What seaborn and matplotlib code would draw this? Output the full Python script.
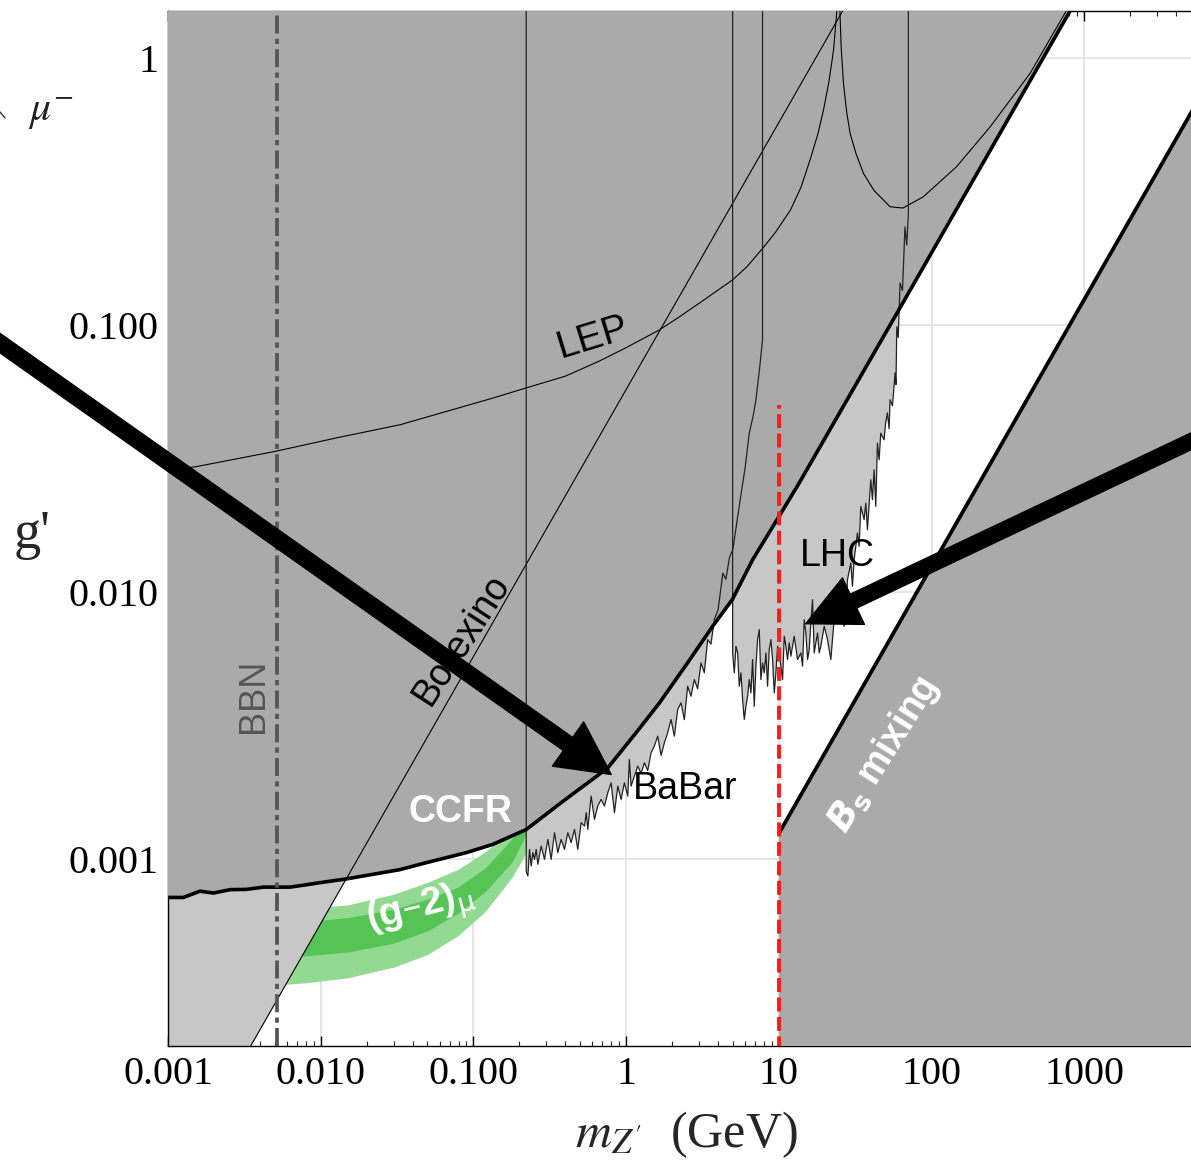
import numpy as np
import matplotlib
matplotlib.use("Agg")
import matplotlib.pyplot as plt
import seaborn as sns
from matplotlib.lines import Line2D
from matplotlib.ticker import LogLocator, NullFormatter

# thick black bound (CCFR), m in GeV, g'
ccfr_m = [0.001, 0.00126, 0.00162, 0.00198, 0.00255, 0.00327, 0.0042, 0.00628, 0.00767, 0.00987, 0.01475,
          0.0329, 0.0492, 0.09, 0.134, 0.222, 0.375, 0.758, 1.2, 1.65, 2.5, 3.69, 4.96, 6.73, 10.0, 13.6, 62.0,
          805.0, 1000.0]
ccfr_g = [7.2e-4, 7.2e-4, 7.6e-4, 7.48e-4, 7.7e-4, 7.72e-4, 7.87e-4, 7.87e-4, 8.0e-4, 8.18e-4, 8.45e-4,
          9.15e-4, 9.72e-4, 1.06e-3, 1.138e-3, 1.294e-3, 1.63e-3, 2.2e-3, 3.05e-3, 3.85e-3, 5.4e-3, 7.47e-3, 9.4e-3,
          0.01324, 0.0192, 0.0257, 0.116, 1.5, 1.87]

# Borexino (thin straight line)
bor_m = [0.001, 30.0]
bor_g = [5.75e-5, 1.725]

# LEP (thin curve)
lep_m = [0.001, 0.0015, 0.005, 0.013, 0.0329, 0.07, 0.134, 0.2195, 0.4, 0.668, 1.0, 1.652, 2.2, 3.01, 4.98, 6.2,
         7.82, 9.5, 11.9, 14.0, 16.0, 18.0, 19.6, 21.3, 22.8, 24.0, 24.5, 25.1, 25.6, 26.5, 27.8, 29.3, 32.0, 35.8,
         42.0, 53.5, 65.0, 88.3, 146.0, 242.0, 441.0, 765.0]
lep_g = [0.0288, 0.0295, 0.0337, 0.038, 0.0424, 0.048, 0.0534, 0.0582, 0.0645, 0.0735, 0.0825, 0.0961, 0.107, 0.121,
         0.148, 0.166, 0.194, 0.223, 0.270, 0.33, 0.416, 0.52, 0.64, 0.82, 1.07, 1.51, 3.0, 1.51, 1.1, 0.805, 0.63,
         0.523, 0.44, 0.371, 0.32, 0.278, 0.275, 0.303, 0.393, 0.554, 0.877, 1.51]

# BaBar (thin wiggly curve)
babar_m = [0.2217, 0.2217, 0.2273, 0.2331, 0.2390, 0.2451, 0.2513, 0.2577, 0.2642, 0.2778, 0.2921, 0.3071, 0.3229,
           0.3396, 0.3570, 0.3754, 0.3947, 0.4150, 0.4365, 0.4589, 0.4826, 0.5074, 0.5336, 0.548, 0.5610, 0.5899,
           0.6203, 0.6522, 0.6858, 0.7211, 0.7582, 0.7973, 0.8384, 0.8815, 0.9269, 0.9745, 1.025, 1.05, 1.077, 1.133,
           1.191, 1.253, 1.317, 1.385, 1.456, 1.531, 1.610, 1.693, 1.780, 1.871, 1.968, 2.069, 2.176, 2.288, 2.405,
           2.529, 2.659, 2.796, 2.940, 3.091, 3.251, 3.418, 3.594, 3.779, 4.0, 4.3, 4.5, 4.75, 5.0, 5.4, 5.7, 6.0,
           6.4, 6.8, 7.08, 7.5, 7.82, 7.82]
babar_g = [2.0, 9.0e-4, 8.66e-4, 1.09e-3, 9.44e-4, 1.059e-3, 1.0e-3, 1.09e-3, 9.58e-4, 1.122e-3, 1.0e-3, 1.188e-3,
           1.0e-3, 1.258e-3, 1.059e-3, 1.188e-3, 1.09e-3, 1.258e-3, 1.155e-3, 1.295e-3, 1.09e-3, 1.372e-3, 1.332e-3,
           1.495e-3, 1.295e-3, 1.726e-3, 1.412e-3, 1.584e-3, 1.677e-3, 1.584e-3, 1.775e-3, 1.935e-3, 1.495e-3, 1.88e-3,
           1.677e-3, 1.935e-3, 1.726e-3, 2.366e-3, 1.88e-3, 2.05e-3, 2.234e-3, 2.1e-3, 2.299e-3, 2.15e-3, 2.506e-3,
           2.655e-3, 2.893e-3, 2.45e-3, 2.732e-3, 2.978e-3, 3.341e-3, 2.893e-3, 3.641e-3, 3.856e-3, 3.338e-3,
           4.452e-3, 4.083e-3, 4.715e-3, 4.352e-3, 5.44e-3, 5.0e-3, 6.65e-3, 6.4e-3, 7.9e-3, 8.6e-3, 0.0118, 0.0112,
           0.0135, 0.0145, 0.0195, 0.024, 0.029, 0.0394, 0.046, 0.0526, 0.07, 0.0881, 2.0]

# LHC (thin wiggly curve)
lhc_m = [4.982, 4.982, 5.109, 5.239, 5.372, 5.508, 5.648, 5.791, 5.938, 6.089, 6.244, 6.402, 6.565, 6.731, 6.903,
         7.079, 7.258, 7.443, 7.632, 7.826, 8.025, 8.229, 8.438, 8.652, 8.873, 9.099, 9.331, 9.568, 9.811, 10.06,
         10.31, 10.58, 10.85, 11.12, 11.40, 11.70, 11.99, 12.61, 13.26, 13.94, 14.30, 14.66, 15.03, 15.42, 15.81,
         16.20, 16.62, 17.04, 17.92, 18.37, 18.84, 19.82, 20.83, 21.90, 23.03, 24.22, 25.46, 26.77, 27.45, 28.15,
         29.60, 30.35, 31.12, 32.72, 33.56, 34.41, 36.18, 37.10, 38.04, 40.0, 41.02, 42.06, 43.13, 44.22, 45.35,
         46.50, 48.89, 50.0, 51.4, 52.72, 53.5, 55.5, 57.7, 58.5, 59.2, 60.5, 62.2, 64.5, 67.0, 68.8, 70.5, 70.5]
lhc_g = [2.0, 5.933e-3, 4.993e-3, 6.283e-3, 5.933e-3, 4.452e-3, 4.993e-3, 3.968e-3, 3.341e-3, 3.746e-3, 4.083e-3,
         4.715e-3, 4.202e-3, 5.601e-3, 3.746e-3, 5.288e-3, 6.654e-3, 7.252e-3, 4.715e-3, 5.443e-3, 4.993e-3,
         5.933e-3, 4.452e-3, 6.105e-3, 6.654e-3, 5.601e-3, 4.202e-3, 4.993e-3, 6.283e-3, 5.933e-3, 5.288e-3,
         4.715e-3, 6.848e-3, 6.283e-3, 5.601e-3, 6.466e-3, 5.765e-3, 6.848e-3, 5.601e-3, 5.933e-3, 5.288e-3,
         7.903e-3, 7.047e-3, 5.601e-3, 6.105e-3, 7.681e-3, 9.39e-3, 5.933e-3, 7.047e-3, 5.933e-3, 6.283e-3,
         7.463e-3, 6.654e-3, 5.601e-3, 7.903e-3, 7.681e-3, 8.37e-3, 7.463e-3, 7.903e-3, 0.01115, 0.01288, 0.01053,
         0.01326, 0.01668, 0.01487, 0.02099, 0.01871, 0.0216, 0.01717, 0.0264, 0.02222, 0.02877, 0.0210, 0.03621,
         0.03136, 0.03947, 0.03727, 0.0430, 0.0470, 0.0410, 0.0526, 0.050, 0.0664, 0.060, 0.0989, 0.090, 0.144,
         0.135, 0.234, 0.20, 0.261, 2.0]

# Bs mixing bound
bs_m = [10.0, 6000.0]
bs_g = [1.25e-3, 0.75]

# (g-2)_mu band: 2 sigma (outer) and 1 sigma (inner)
band_m = [0.004, 0.008, 0.015, 0.03, 0.05, 0.08, 0.12, 0.18, 0.23]
band_outer_lo = [3.35e-4, 3.45e-4, 3.6e-4, 3.95e-4, 4.4e-4, 5.2e-4, 6.4e-4, 8.6e-4, 1.1e-3]
band_inner_lo = [4.3e-4, 4.35e-4, 4.5e-4, 4.85e-4, 5.4e-4, 6.3e-4, 7.6e-4, 9.8e-4, 1.3e-3]
band_inner_hi = [5.8e-4, 5.85e-4, 6.05e-4, 6.5e-4, 7.1e-4, 7.9e-4, 9.3e-4, 1.2e-3, 1.55e-3]
band_outer_hi = [6.5e-4, 6.55e-4, 6.75e-4, 7.4e-4, 8.2e-4, 9.2e-4, 1.07e-3, 1.3e-3, 1.7e-3]

bbn_m = 0.0052
red_m, red_gtop = 10.0, 0.0503

xticks = [1e-3, 1e-2, 1e-1, 1, 10, 100, 1000]
xticklabels = ["0.001", "0.010", "0.100", "1", "10", "100", "1000"]
yticks = [1e-3, 1e-2, 1e-1, 1]
yticklabels = ["0.001", "0.010", "0.100", "1"]

sns.set_style("ticks")
plt.rcParams['font.family'] = ['Liberation Serif', 'DejaVu Serif']
plt.rcParams['mathtext.fontset'] = 'stix'
plt.rcParams['text.color'] = 'black'

dark = '#aaaaaa'
light = '#c7c7c7'

fig = plt.figure(figsize=(11.91, 11.66), dpi=100)
ax = fig.add_axes([168/1191, 1 - 1046/1166, 1023/1191, 1034.7/1166])
ax.set_xscale('log')
ax.set_yscale('log')

# green (g-2) band
ax.fill_between(band_m, band_outer_lo, band_outer_hi, color='#92da92', lw=0, zorder=1)
ax.fill_between(band_m, band_inner_lo, band_inner_hi, color='#55c455', lw=0, zorder=1.1)

# light gray regions
n_ll = ccfr_m.index(0.01475) + 1
ax.fill(ccfr_m[:n_ll] + [bor_m[0]], ccfr_g[:n_ll] + [bor_g[0]], color=light, lw=0, zorder=2)
ax.fill(babar_m, babar_g, color=light, lw=0, zorder=2)
ax.fill(lhc_m, lhc_g, color=light, lw=0, zorder=2)

# dark gray regions
ax.fill(ccfr_m + [ccfr_m[-1], ccfr_m[0]], ccfr_g + [10, 10], color=dark, lw=0, zorder=3)
ax.fill(bs_m + [bs_m[-1], bs_m[0]], bs_g + [1e-5, 1e-5], color=dark, lw=0, zorder=3)

# thin lines
sns.lineplot(x=lep_m, y=lep_g, sort=False, estimator=None, color='black', lw=0.8, ax=ax, zorder=4)
sns.lineplot(x=bor_m, y=bor_g, sort=False, estimator=None, color='black', lw=0.8, ax=ax, zorder=4)
sns.lineplot(x=babar_m, y=babar_g, sort=False, estimator=None, color='#222222', lw=0.9, ax=ax, zorder=4)
sns.lineplot(x=lhc_m, y=lhc_g, sort=False, estimator=None, color='#222222', lw=0.9, ax=ax, zorder=4)

# thick lines
sns.lineplot(x=ccfr_m, y=ccfr_g, sort=False, estimator=None, color='black', lw=2.6, ax=ax, zorder=5)
sns.lineplot(x=bs_m, y=bs_g, sort=False, estimator=None, color='black', lw=2.7, ax=ax, zorder=5)

# BBN and red dashed line
ax.axvline(bbn_m, color='#555555', lw=2.7, dashes=(4.8, 1.4, 1.4, 1.4), zorder=6)
ax.plot([red_m, red_m], [1e-5, red_gtop], color='#ff1a1a', lw=2.8, dashes=(3.6, 1.4), zorder=6)

ax.set_xlim(1e-3, 5000)
ax.set_ylim(2.0e-4, 1.5)

ax.grid(True, which='major', color='#e2e2e2', lw=1.2)
ax.set_axisbelow(True)

ax.set_xticks(xticks)
ax.set_xticklabels(xticklabels)
ax.set_yticks(yticks)
ax.set_yticklabels(yticklabels)
for axis in (ax.xaxis, ax.yaxis):
    axis.set_minor_locator(LogLocator(base=10, subs=np.arange(2, 10), numticks=30))
    axis.set_minor_formatter(NullFormatter())
ax.tick_params(which='major', direction='in', length=7, width=1, top=True, right=False,
               labelsize=29, pad=7, colors='black')
ax.tick_params(which='minor', direction='in', length=3.5, width=0.8, top=True, right=False)
for s in ['left', 'bottom', 'top']:
    ax.spines[s].set_color('black')
    ax.spines[s].set_linewidth(1)
ax.spines['right'].set_visible(False)

ax.set_xlabel(r"$m_{Z'}$  (GeV)", fontsize=36, math_fontfamily='stix', va='center')
ax.xaxis.set_label_coords(0.507, -0.086)
ax.set_ylabel("g'", fontsize=39, rotation=0, va='center', ha='center')
ax.yaxis.set_label_coords(-0.133, 0.494)

sans = 'Liberation Sans'
ax.text(0.602, 0.0898, "LEP", fontsize=28, family=sans, rotation=17, ha='center', va='center',
        rotation_mode='anchor', zorder=7)
ax.text(2.44, 1.83e-3, "BaBar", fontsize=27, family=sans, ha='center', va='center', zorder=7)
ax.text(24.1, 0.0137, "LHC", fontsize=27, family=sans, ha='center', va='center', zorder=7)
ax.text(0.0834, 6.65e-3, "Borexino", fontsize=27, family=sans, rotation=57, ha='center', va='center',
        rotation_mode='anchor', zorder=7)
ax.text(0.0818, 1.51e-3, "CCFR", fontsize=27, family=sans, weight='bold', color='white',
        ha='center', va='center', zorder=7)
ax.text(0.0456, 6.5e-4, r"(g–2)$_\mathrm{\mu}$", fontsize=28, family=sans, weight='bold', color='white',
        rotation=14, ha='center', va='center', rotation_mode='anchor', math_fontfamily='dejavusans', zorder=7)
ax.text(48.9, 2.47e-3, r"$\mathbfit{B}_\mathbf{s}$ mixing", fontsize=27, family=sans, weight='bold',
        color='white', rotation=58, ha='center', va='center', rotation_mode='anchor',
        math_fontfamily='dejavusans', zorder=7)
ax.text(3.65e-3, 4.11e-3, "BBN", fontsize=26, family=sans, color='#555555', rotation=90,
        ha='center', va='center', zorder=7)

# big arrows coming from outside the frame
ax.annotate('', xy=(0.798, 2.08e-3), xycoords='data', xytext=(-20, 837), textcoords='figure pixels',
            arrowprops=dict(arrowstyle='simple,head_length=3.8,head_width=3.9,tail_width=1.15',
                            mutation_scale=10, color='black', shrinkA=0, shrinkB=0), zorder=10)
ax.annotate('', xy=(15.0, 7.63e-3), xycoords='data', xytext=(1215, 736), textcoords='figure pixels',
            arrowprops=dict(arrowstyle='simple,head_length=3.8,head_width=3.7,tail_width=1.1',
                            mutation_scale=10, color='black', shrinkA=0, shrinkB=0), zorder=10)

# fragment of the neighbouring diagram
fig.text(28/1191, 1 - 113/1166, r"$\mu^{-}$", fontsize=30, math_fontfamily='stix', ha='left', va='center',
         color='#222222')
fig.add_artist(Line2D([0, 5/1191], [1 - 112/1166, 1 - 118/1166], color='#333333', lw=1))

fig.savefig('out.png', dpi=100)
